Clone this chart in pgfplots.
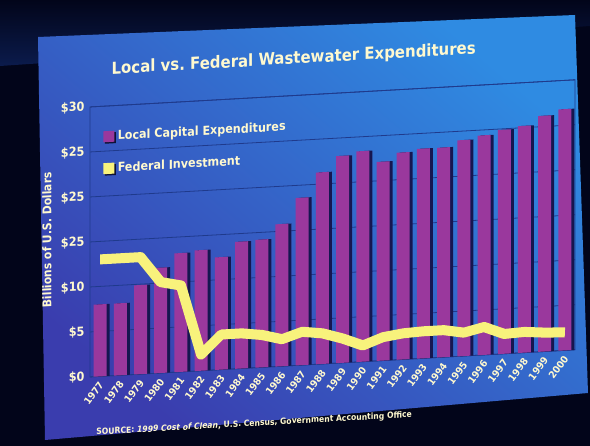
\documentclass[border=0pt]{standalone}
\usepackage{pgfplots}
\pgfplotsset{compat=1.18}
\usepackage{fontspec}
\setmainfont{DejaVu Sans}[FakeStretch=0.9]
\definecolor{bgc}{HTML}{02051A}
\definecolor{bgtop}{HTML}{0B1B4C}
\definecolor{panlight}{HTML}{2F8BE2}
\definecolor{pandark}{HTML}{3A3DAE}
\definecolor{barc}{HTML}{9A389D}
\definecolor{bshd}{HTML}{161650}
\definecolor{linec}{HTML}{F8F27C}
\definecolor{txt}{HTML}{FFF9CF}
\definecolor{shd}{HTML}{0E1236}
\definecolor{gridc}{HTML}{1F3A8C}

\pgfplotstableread{
i v
0 8.0
1 8.0
2 9.9
3 11.7
4 13.2
5 13.4
6 12.5
7 14.1
8 14.2
9 15.8
10 18.6
11 21.3
12 23.0
13 23.4
14 22.1
15 23.0
16 23.3
17 23.3
18 24.0
19 24.4
20 24.9
21 25.2
22 26.2
23 26.8
}\localdata

\pgfplotstableread{
i v
0 13.0
1 13.0
2 13.0
3 10.1
4 9.6
5 1.8
6 3.9
7 3.9
8 3.6
9 3.0
10 3.7
11 3.4
12 2.7
13 1.8
14 2.6
15 2.9
16 3.0
17 3.0
18 2.6
19 3.1
20 2.2
21 2.3
22 2.1
23 2.0
}\federaldata

\begin{document}
\begin{tikzpicture}
\useasboundingbox (0,0) rectangle (590bp,446bp);
\fill[bgc] (0,0) rectangle (590bp,446bp);
\shade[top color=bgc, bottom color=bgtop] (0,380bp) -- (0,446bp) -- (590bp,446bp) -- (590bp,420bp) -- cycle;
\shade[top color=panlight, bottom color=pandark, shading angle=-40]
  (38bp,409bp) -- (575bp,431bp) -- (588bp,53bp) -- (45bp,6bp) -- cycle;
\begin{scope}[yslant=0.056, transform shape]
\begin{axis}[
  at={(90bp,64bp)}, anchor=south west,
  scale only axis, width=485bp, height=270bp,
  xmin=-0.5, xmax=23.5, ymin=0, ymax=30,
  axis line style={draw=gridc, line width=0.8bp},
  ytick={0,5,10,15,20,25,30},
  yticklabels={\$0,\$5,\$10,\$25,\$25,\$25,\$30},
  xtick={0,...,23},
  xticklabels={1977,1978,1979,1980,1981,1982,1983,1984,1985,1986,1987,1988,1989,1990,1991,1992,1993,1994,1995,1996,1997,1998,1999,2000},
  major tick length=0pt,
  ymajorgrids, grid style={draw=gridc, line width=0.8bp},
  /pgf/number format/assume math mode=true,
  yticklabel style={font=\fontsize{12.5bp}{14bp}\selectfont\bfseries, text=txt, xshift=-2bp},
  xticklabel style={font=\fontsize{10bp}{12bp}\selectfont\bfseries, text=txt, anchor=east, inner sep=1bp, xshift=2bp, yshift=-6bp, rotate=52},
  title={Local vs.\ Federal Wastewater Expenditures},
  title style={at={(axis description cs:0.42,1.112)}, anchor=center, font=\fontsize{16.6bp}{20bp}\selectfont\bfseries, text=txt},
  ylabel={Billions of U.S. Dollars},
  ylabel style={at={(axis description cs:-0.0887,0.516)}, anchor=center, font=\fontsize{12bp}{14bp}\selectfont\bfseries, text=txt},
  legend style={at={(axis description cs:0.027,0.915)}, anchor=north west, draw=none, fill=none,
    font=\fontsize{12.4bp}{14bp}\selectfont\bfseries, text=txt, row sep=17bp, inner sep=0pt,
    cells={anchor=west}},
  clip=false,
]
\addplot[ybar, bar width=13bp, bar shift=3bp, fill=bshd, draw=none, forget plot] table[x=i, y=v] {\localdata};
\addplot[ybar, bar width=13bp, bar shift=0bp, fill=barc, draw=none,
  legend image code/.code={\path[fill=shd, draw=none] (1.5bp,-7bp) rectangle (12.5bp,4bp); \path[fill=barc, draw=none] (0bp,-5.5bp) rectangle (11bp,5.5bp);}]
  table[x=i, y=v] {\localdata};
\addlegendentry{Local Capital Expenditures}
\addplot[linec, line width=10bp, line join=round, mark=none,
  legend image code/.code={\path[fill=shd, draw=none, line width=0bp] (1.5bp,-7bp) rectangle (12.5bp,4bp); \path[fill=linec, draw=none, line width=0bp] (0bp,-5.5bp) rectangle (11bp,5.5bp);}]
  table[x=i, y=v] {\federaldata};
\addlegendentry{Federal Investment}
\node[anchor=base west, text=txt, font=\fontsize{8.5bp}{10bp}\selectfont\bfseries] at (axis description cs:0.006,-0.216)
  {SOURCE: \textit{1999 Cost of Clean}, U.S. Census, Government Accounting Office};
\end{axis}
\end{scope}
\end{tikzpicture}
\end{document}
